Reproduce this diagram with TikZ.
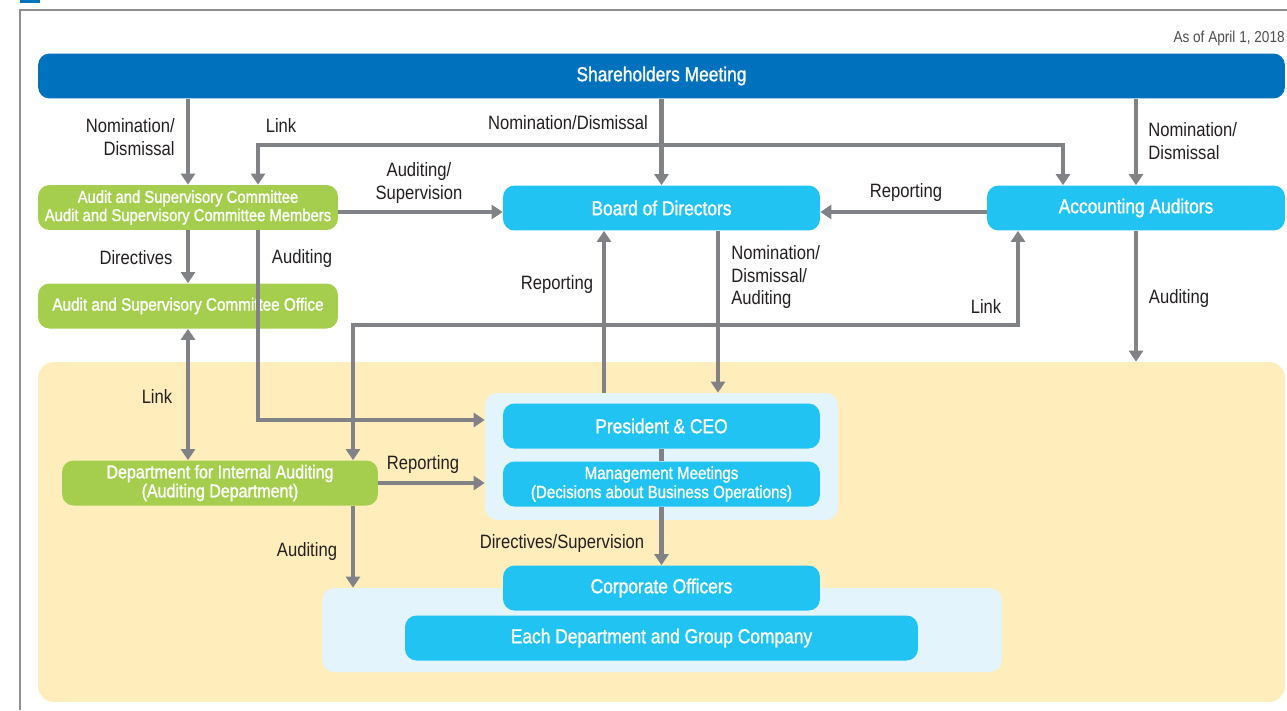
\documentclass[tikz,border=0pt]{standalone}
\usepackage{fontspec}
\setmainfont{Liberation Sans}[FakeStretch=0.86]
\newfontfamily\boxfont{Liberation Sans}[FakeStretch=0.86,FakeBold=1.2]
\usetikzlibrary{arrows.meta}

\definecolor{sblue}{HTML}{0071BC}
\definecolor{lblue}{HTML}{21C3F3}
\definecolor{lgreen}{HTML}{A6CE4E}
\definecolor{zoneyel}{HTML}{FFEDBC}
\definecolor{grpblue}{HTML}{E4F4FC}
\definecolor{agray}{HTML}{808285}
\definecolor{txt}{HTML}{231F20}

\tikzset{
  box/.style={fill=lblue, rounded corners=6.5pt, text=white, minimum height=0.9cm,
    inner sep=0pt, align=center, font=\boxfont\fontsize{11.5}{13}\selectfont},
  gbox/.style={box, fill=lgreen},
  small/.style={font=\boxfont\fontsize{9.8}{10.4}\selectfont},
  grp/.style={fill=grpblue, rounded corners=7pt, inner sep=0pt},
  lbl/.style={text=txt, inner sep=0pt, align=center, font=\fontsize{11}{13}\selectfont},
  arr/.style={line width=2.8pt, draw=agray, -{Triangle[length=6.3pt,width=8pt]}},
  dbl/.style={arr, {Triangle[length=6.3pt,width=8pt]}-{Triangle[length=6.3pt,width=8pt]}},
}

\begin{document}
\begin{tikzpicture}[x=0.02cm,y=-0.02cm]
  \useasboundingbox (0,0) rectangle (1287,710);
  \fill[sblue] (20,-5) rectangle (40,3);
  \draw[agray!90,line width=0.8pt] (20,710) -- (20,10) -- (1287,10);
  \node[lbl,anchor=east,text=txt!80,font=\fontsize{9}{10}\selectfont] (asof) at (1285,38) {As of April 1, 2018};

  % background zones
  \node[fill=zoneyel, rounded corners=9pt, minimum width=24.94cm, minimum height=6.8cm] (exec) at (661.5,532) {};
  \node[grp, minimum width=7.06cm, minimum height=2.54cm] (topgrp) at (661.5,456.5) {};
  \node[grp, minimum width=13.6cm, minimum height=1.68cm] (botgrp) at (662,630) {};

  % boxes
  \node[box, fill=sblue, minimum width=24.94cm] (sm) at (661.5,76) {Shareholders Meeting};
  \node[gbox, small, minimum width=6cm] (asc) at (188,207.5)
    {Audit and Supervisory Committee\\Audit and Supervisory Committee Members};
  \node[gbox, minimum width=6cm, font=\boxfont\fontsize{10.1}{12}\selectfont] (off) at (188,306) {Audit and Supervisory Committee Office};
  \node[box, minimum width=6.34cm] (bod) at (661.5,208) {Board of Directors};
  \node[box, minimum width=5.96cm] (aa) at (1136,208) {Accounting Auditors};
  \node[box, minimum width=6.34cm] (pres) at (661.5,426) {President \& CEO};
  \node[box, small, minimum width=6.34cm, font=\boxfont\fontsize{10}{10.8}\selectfont] (mm) at (661.5,484)
    {Management Meetings\\(Decisions about Business Operations)};
  \node[gbox, minimum width=6.32cm, font=\boxfont\fontsize{10.6}{10.8}\selectfont] (dia) at (220,483)
    {Department for Internal Auditing\\(Auditing Department)};
  \node[box, minimum width=6.34cm] (co) at (661.5,588) {Corporate Officers};
  \node[box, minimum width=10.26cm] (edg) at (661.5,638) {Each Department and Group Company};

  % bends
  \coordinate (lkA) at (258,145);
  \coordinate (lkB) at (1063,145);
  \coordinate (audC) at (258,420);
  \coordinate (lkC) at (353,325);
  \coordinate (lkD) at (1018,325);
  \coordinate (rpX) at (604,0);
  \coordinate (ndX) at (718,0);
  \coordinate (row) at (0,212);

  % connectors
  \draw[arr] (sm.south -| asc) -- (asc.north);
  \draw[arr] (sm.south) -- (bod.north);
  \draw[arr] (sm.south -| aa) -- (aa.north);
  \draw[dbl] (asc.north -| lkA) -- (lkA) -- (lkB) -- (aa.north -| lkB);
  \draw[arr] (asc.east |- row) -- (bod.west |- row);
  \draw[arr] (aa.west |- row) -- (bod.east |- row);
  \draw[arr] (asc.south) -- (off.north);
  \draw[arr] (asc.south -| audC) -- (audC) -- (topgrp.west |- audC);
  \draw[dbl] (off.south) -- (dia.north -| off.south);
  \draw[dbl] (dia.north -| lkC) -- (lkC) -- (lkD) -- (aa.south -| lkD);
  \draw[arr] (topgrp.north -| rpX) -- (bod.south -| rpX);
  \draw[arr] (bod.south -| ndX) -- (topgrp.north -| ndX);
  \draw[arr] (dia.east) -- (topgrp.west |- dia.east);
  \draw[arr] (dia.south -| lkC) -- (botgrp.north -| lkC);
  \draw[line width=2.8pt, agray] (pres.south) -- (mm.north);
  \draw[arr] (mm.south) -- (co.north);
  \draw[arr] (aa.south) -- (aa.south |- exec.north);

  % labels
  \node[lbl, anchor=east, align=right] (l1) at (175,137) {Nomination/\\Dismissal};
  \node[lbl] (l2) at (281,125) {Link};
  \node[lbl] (l3) at (568,123) {Nomination/Dismissal};
  \node[lbl, anchor=west, align=left] (l4) at (1148,141) {Nomination/\\Dismissal};
  \node[lbl] (l5) at (419,183) {Auditing/\\Supervision};
  \node[lbl] (l6) at (906,192) {Reporting};
  \node[lbl] (l7) at (136,258) {Directives};
  \node[lbl] (l8) at (302,258) {Auditing};
  \node[lbl] (l9) at (557,284) {Reporting};
  \node[lbl, anchor=west, align=left] (l10) at (731,277) {Nomination/\\Dismissal/\\Auditing};
  \node[lbl] (l11) at (986,306) {Link};
  \node[lbl] (l12) at (1179,298) {Auditing};
  \node[lbl] (l13) at (157,396) {Link};
  \node[lbl] (l14) at (423,464) {Reporting};
  \node[lbl] (l15) at (307,551) {Auditing};
  \node[lbl] (l16) at (562,543) {Directives/Supervision};
\end{tikzpicture}
\end{document}
